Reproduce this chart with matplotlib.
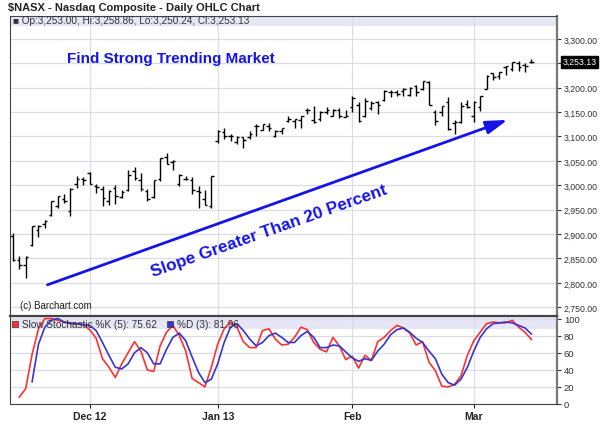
import matplotlib
matplotlib.use('Agg')
import matplotlib.pyplot as plt
import matplotlib.transforms as mtransforms
import numpy as np

plt.rcParams['font.family'] = ['Liberation Sans', 'DejaVu Sans']

#%% price data (Nov 14 2012 .. Mar 14 2013)
opens = [2897, 2847, 2836, 2878, 2908, 2920, 2940, 2958, 2972, 2947, 3003, 3012,
         3025, 2998, 2993, 2967, 2994, 2976, 2990, 3030, 3011, 2988, 2975, 3012,
         3058, 3048, 3002, 3012, 3011, 2989, 2971, 2957,
         3091, 3109, 3100, 3089, 3098, 3099, 3122, 3114, 3122, 3101, 3112, 3131,
         3132, 3133, 3154, 3133, 3136, 3150, 3142, 3154, 3140,
         3160, 3165, 3141, 3159, 3170, 3175, 3191, 3191, 3194, 3185, 3204, 3198,
         3212, 3150, 3150, 3170, 3127, 3130, 3167,
         3142, 3160, 3198, 3230, 3223, 3242, 3238, 3250, 3246, 3253.00]
highs = [2902, 2856, 2856, 2917, 2918, 2929, 2967, 2977, 2982, 2994, 3018, 3016,
         3028, 3003, 2999, 2990, 3000, 2990, 3032, 3038, 3025, 2993, 3011, 3055,
         3067, 3051, 3023, 3020, 3016, 2998, 2990, 3020,
         3113, 3118, 3105, 3102, 3099, 3111, 3125, 3126, 3127, 3114, 3118, 3143,
         3136, 3143, 3158, 3163, 3152, 3160, 3157, 3159, 3155,
         3183, 3171, 3178, 3172, 3173, 3196, 3196, 3195, 3200, 3201, 3205, 3214,
         3213, 3155, 3162, 3181, 3133, 3171, 3174,
         3172, 3183, 3227, 3230, 3233, 3245, 3253, 3254, 3250, 3258.86]
lows = [2845, 2828, 2810, 2875, 2893, 2912, 2937, 2953, 2964, 2936, 2995, 3000,
        3002, 2985, 2958, 2960, 2962, 2974, 2989, 3010, 2988, 2967, 2973, 3008,
        3043, 3032, 2998, 3011, 2983, 2953, 2960, 2953,
        3087, 3095, 3090, 3085, 3076, 3094, 3102, 3113, 3111, 3098, 3106, 3130,
        3118, 3118, 3146, 3128, 3131, 3146, 3141, 3138, 3139,
        3150, 3129, 3140, 3155, 3147, 3172, 3180, 3183, 3182, 3184, 3184, 3195,
        3164, 3123, 3143, 3113, 3105, 3127, 3159,
        3129, 3153, 3197, 3216, 3218, 3226, 3235, 3235, 3233, 3250.24]
closes = [2847, 2837, 2853, 2916, 2917, 2927, 2967, 2977, 2968, 2992, 3012, 3010,
          3002, 2997, 2974, 2989, 2978, 2987, 3022, 3014, 2992, 2971, 3011, 3055,
          3044, 3050, 3021, 3013, 2990, 2986, 2960, 3020,
          3112, 3101, 3102, 3099, 3092, 3106, 3122, 3126, 3118, 3111, 3118, 3136,
          3135, 3143, 3154, 3130, 3150, 3154, 3154, 3142, 3142,
          3179, 3131, 3172, 3168, 3165, 3194, 3192, 3187, 3197, 3199, 3192, 3214,
          3164, 3132, 3162, 3116, 3130, 3162, 3160,
          3170, 3182, 3224, 3222, 3232, 3244, 3253, 3242, 3245, 3253.13]

#%% slow stochastic
pct_k = [np.nan, 8, 18, 58, 88, 100, 100, 98, 96, 95, 94, 93, 87, 77, 53, 43, 31, 47,
         60, 73, 62, 40, 38, 68, 84, 92, 80, 62, 30, 25, 20, 43, 70, 88, 96, 90,
         73, 66, 66, 86, 88, 76, 69, 70, 78, 90, 87, 72, 64, 61, 78, 68, 52, 56,
         42, 57, 51, 73, 78, 86, 92, 89, 83, 69, 73, 49, 39, 21, 20, 23, 33, 57,
         74, 84, 94, 96, 95, 95, 98, 90, 84, 75.62]
pct_d = [np.nan, np.nan, np.nan, 26, 70, 90, 98, 100, 96, 94, 94, 93, 92, 86, 72, 57,
         43, 41, 47, 60, 66, 60, 47, 47, 64, 78, 83, 74, 55, 37, 25, 29, 47, 72,
         90, 94, 86, 76, 68, 72, 80, 83, 78, 72, 72, 80, 85, 78, 66, 66, 69, 68,
         61, 54, 50, 53, 51, 62, 70, 81, 87, 89, 84, 77, 72, 62, 53, 35, 25, 22,
         29, 43, 62, 78, 88, 94, 95, 96, 95, 92, 89, 81.96]

month_idx = [12, 32, 53, 72]
month_labels = ['Dec 12', 'Jan 13', 'Feb', 'Mar']
price_ticks = [2750, 2800, 2850, 2900, 2950, 3000, 3050, 3100, 3150, 3200, 3250, 3300]
stoch_ticks = [0, 20, 40, 60, 80, 100]

x = np.arange(len(closes))
blue = '#1414e6'
grid_c = '#dcdce6'

fig = plt.figure(figsize=(6, 4.39), dpi=100)
ax1 = fig.add_axes([10/600, 1-317/439, 547/600, 300/439])
ax2 = fig.add_axes([10/600, 1-405/439, 547/600, 88/439])

#%% price panel
ax1.vlines(x, lows, highs, color='black', lw=1)
ax1.hlines(opens, x-0.4, x, color='black', lw=1)
ax1.hlines(closes, x, x+0.4, color='black', lw=1)
ax1.set_xlim(-0.45, 85)
ax1.set_ylim(2732, 3347)
ax1.axhspan(3327, 3347, facecolor='#e6e6f6', edgecolor='none', zorder=0)
ax1.set_yticks(price_ticks)
# 3,250 label is hidden behind the last-price box
ax1.set_yticklabels(['' if t == 3250 else '{:,.2f}'.format(t) for t in price_ticks])
ax1.yaxis.tick_right()
ax1.tick_params(axis='y', length=3, pad=2, labelsize=6.3, colors='#333333')
ax1.set_xticks(month_idx)
ax1.tick_params(axis='x', length=0, labelbottom=False)
ax1.grid(True, color=grid_c, lw=0.9, zorder=0)
ax1.set_axisbelow(True)
for s in ax1.spines.values():
    s.set_color('#444444')
ax1.spines['right'].set_linewidth(1.6)
ax1.spines['right'].set_color('#777777')

trans = mtransforms.blended_transform_factory(ax1.transAxes, ax1.transData)
ax1.text(1.01, closes[-1], '{:,.2f}'.format(closes[-1]), transform=trans, fontsize=6.3,
         color='white', va='center', ha='left',
         bbox=dict(boxstyle='square,pad=0.15', fc='black', ec='black'))

ax1.text(0.005, 0.985, '\u25a0 Op:{:,.2f}, Hi:{:,.2f}, Lo:{:,.2f}, Cl:{:,.2f}'.format(
    opens[-1], highs[-1], lows[-1], closes[-1]), transform=ax1.transAxes,
    fontsize=7.2, color='#333333', va='center', ha='left')
ax1.text(0.018, 0.035, '(c) Barchart.com', transform=ax1.transAxes, fontsize=7,
         color='#222222', va='center')

ax1.text(0.105, 0.86, 'Find Strong Trending Market', transform=ax1.transAxes,
         fontsize=11, fontweight='bold', color=blue, va='center')
ax1.annotate('', xy=(77.7, 3136), xytext=(5, 2794),
             arrowprops=dict(arrowstyle='-|>,head_length=1.3,head_width=0.4',
                             color=blue, lw=2))
ax1.text(40, 2908, 'Slope Greater Than 20 Percent', fontsize=12.3, fontweight='bold',
         color=blue, rotation=19.5, rotation_mode='anchor', ha='center', va='center')

#%% stochastic panel
ax2.plot(x, pct_k, color='#ff3030', lw=1.2)
ax2.plot(x, pct_d, color='#3535d0', lw=1.2)
ax2.set_xlim(-0.45, 85)
ax2.set_ylim(0, 103)
ax2.axhspan(88, 103, facecolor='#e6e6f6', edgecolor='none', zorder=0)
ax2.set_yticks(stoch_ticks)
ax2.yaxis.tick_right()
ax2.tick_params(axis='y', length=3, pad=2, labelsize=6.8, colors='#333333')
ax2.set_xticks(month_idx)
ax2.set_xticklabels(month_labels, fontweight='bold', fontsize=7.5)
ax2.tick_params(axis='x', length=3, pad=2, colors='#222222')
ax2.grid(True, color=grid_c, lw=0.9, zorder=0)
ax2.set_axisbelow(True)
for s in ax2.spines.values():
    s.set_color('#444444')
ax2.spines['top'].set_linewidth(1.6)
ax2.spines['right'].set_linewidth(1.6)
ax2.spines['right'].set_color('#777777')

ax2.plot([0.009], [0.905], marker='s', ms=5, color='#ff3030', mec='#333333', mew=0.5,
         transform=ax2.transAxes, clip_on=False)
ax2.text(0.022, 0.905, 'Slow Stochastic %K (5): {:.2f}'.format(pct_k[-1]),
         transform=ax2.transAxes, fontsize=7.2, color='#333333', va='center')
ax2.plot([0.293], [0.905], marker='s', ms=5, color='#3535d0', mec='#333333', mew=0.5,
         transform=ax2.transAxes, clip_on=False)
ax2.text(0.306, 0.905, '%D (3): {:.2f}'.format(pct_d[-1]),
         transform=ax2.transAxes, fontsize=7.2, color='#333333', va='center')

fig.text(8/600, 1-8/439, '\\$NASX - Nasdaq Composite - Daily OHLC Chart',
         fontsize=8, fontweight='bold', color='#222222', va='center', ha='left')

plt.savefig('out.png', dpi=100)
